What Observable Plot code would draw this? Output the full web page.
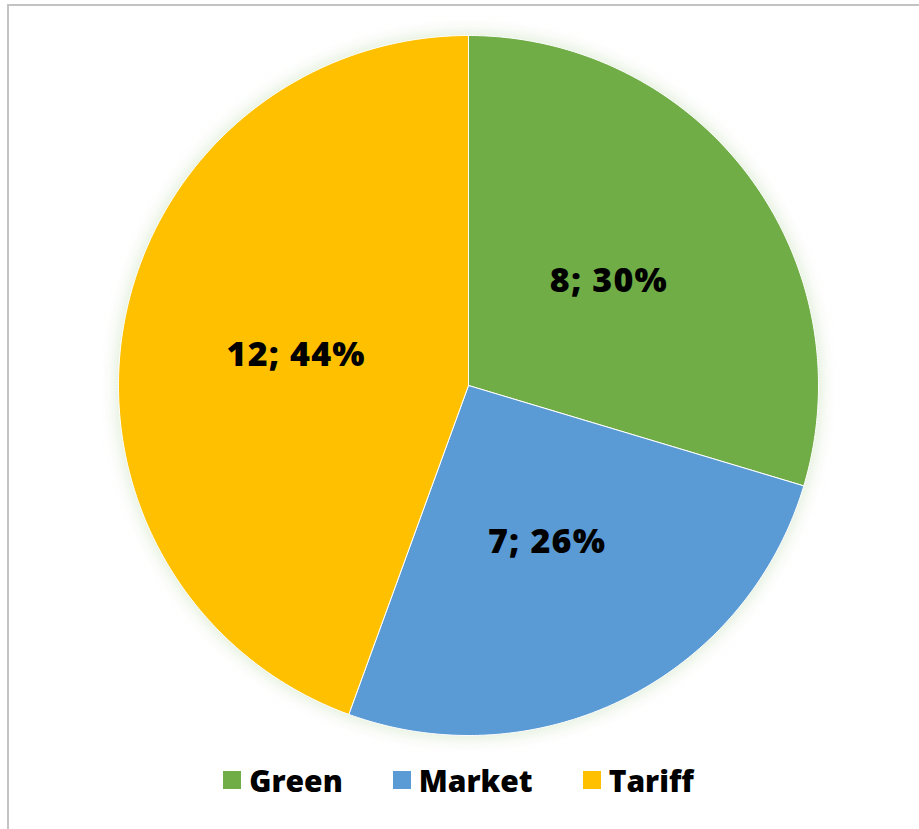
<!DOCTYPE html>
<html>
<head>
<meta charset="utf-8">
<script src="https://cdn.jsdelivr.net/npm/d3@7"></script>
<script src="https://cdn.jsdelivr.net/npm/@observablehq/plot@0.6"></script>
<style>
  html, body { margin: 0; padding: 0; background: #fff; overflow: hidden; }
  #wrap { position: relative; width: 919px; height: 829px; }
  #frame { position: absolute; left: 7px; top: 4px; width: 2000px; height: 2000px;
           border-left: 2px solid #c3c3c3; border-top: 2px solid #c3c3c3; box-sizing: border-box; }
  #chart { position: absolute; left: 0; top: 0; }
  #legend { position: absolute; left: 0; top: 762px; width: 919px; height: 36px;
            display: flex; justify-content: center; align-items: center;
            padding-right: 2px; box-sizing: border-box;
            font-family: "Open Sans", sans-serif; font-weight: 800; font-size: 30px; color: #000; }
  .item { display: flex; align-items: center; margin: 0 25px; }
  .sw { width: 18px; height: 18px; margin-right: 8px; }
</style>
</head>
<body>
<div id="wrap">
  <div id="frame"></div>
  <div id="chart"></div>
  <div id="legend"></div>
</div>
<script>
const categories = ["Green", "Market", "Tariff"];
const values = [8, 7, 12];
const percentLabels = ["30%", "26%", "44%"];
const colors = ["#70AD47", "#5B9BD5", "#FFC000"];

const data = categories.map((name, i) => ({name, value: values[i], pct: percentLabels[i]}));
const arcs = d3.pie().sort(null).value(d => d.value)(data);

// Polygon outline of each slice, computed from pie angles
const points = [];
arcs.forEach(a => {
  const name = a.data.name;
  points.push({name, x: 0, y: 0});
  const n = Math.max(2, Math.ceil((a.endAngle - a.startAngle) / (Math.PI / 360)));
  for (let k = 0; k <= n; k++) {
    const t = a.startAngle + (a.endAngle - a.startAngle) * k / n;
    points.push({name, x: Math.sin(t), y: Math.cos(t)});
  }
  points.push({name, x: 0, y: 0});
});

const labels = arcs.map(a => {
  const m = (a.startAngle + a.endAngle) / 2;
  return {name: a.data.name, text: `${a.data.value}; ${a.data.pct}`, x: 0.5 * Math.sin(m), y: 0.5 * Math.cos(m)};
});

const W = 919, H = 760;
const plot = Plot.plot({
  width: W,
  height: H,
  marginLeft: 118,
  marginRight: 101,
  marginTop: 35,
  marginBottom: 25,
  x: {domain: [-1, 1], axis: null},
  y: {domain: [-1, 1], axis: null},
  color: {domain: categories, range: colors},
  style: {background: "transparent", overflow: "visible"},
  marks: [
    Plot.line(points, {x: "x", y: "y", z: "name", fill: "name", stroke: "white", strokeWidth: 1, curve: "linear"}),
    Plot.text(labels, {x: "x", y: "y", text: "text", fontSize: 34, fontWeight: 800,
      fontFamily: "Open Sans, sans-serif", fill: "#000"})
  ]
});
document.getElementById("chart").appendChild(plot);
const lineG = plot.querySelector('g[aria-label="line"]');
if (lineG) lineG.style.filter = "drop-shadow(0 0 9px rgba(112,173,71,0.28))";
plot.querySelectorAll('g[aria-label="text"] text').forEach(t => t.style.letterSpacing = "1.2px");

const legend = document.getElementById("legend");
categories.forEach((c, i) => {
  const item = document.createElement("div");
  item.className = "item";
  const sw = document.createElement("div");
  sw.className = "sw";
  sw.style.background = colors[i];
  const lab = document.createElement("span");
  lab.textContent = c;
  item.appendChild(sw);
  item.appendChild(lab);
  legend.appendChild(item);
});
</script>
</body>
</html>
